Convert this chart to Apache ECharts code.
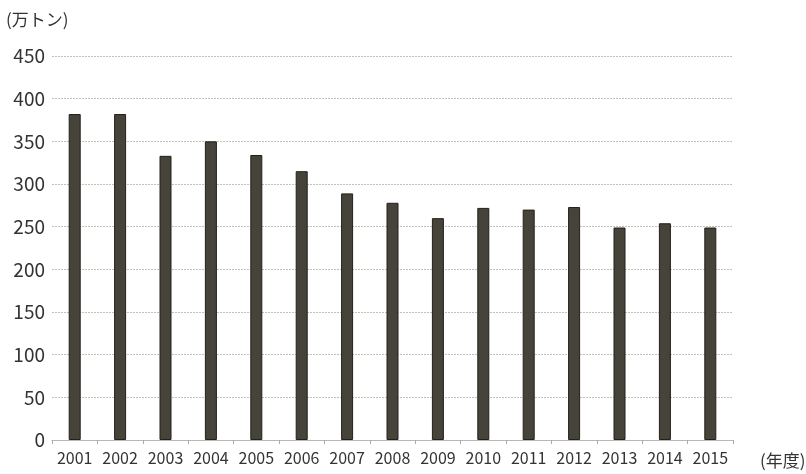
<!DOCTYPE html>
<html><head><meta charset="utf-8">
<script src="https://cdn.jsdelivr.net/npm/echarts@6/dist/echarts.min.js"></script>
<style>html,body{margin:0;padding:0;background:#fff}#c{width:806px;height:474px}</style>
</head><body><div id="c"></div>
<script>
const years = ['2001','2002','2003','2004','2005','2006','2007','2008','2009','2010','2011','2012','2013','2014','2015'];
const values = [382, 382, 333, 350, 334, 315, 289, 278, 260, 272, 270, 273, 249, 254, 249];
const yTicks = [0, 50, 100, 150, 200, 250, 300, 350, 400, 450];

const chart = echarts.init(document.getElementById('c'));
const font = '"Noto Sans CJK JP", "Noto Sans", sans-serif';
chart.setOption({
  backgroundColor: '#ffffff',
  animation: false,
  grid: { left: 52, right: 73, top: 56, bottom: 34 },
  xAxis: {
    type: 'category',
    data: years,
    axisLine: { lineStyle: { color: '#b8b8b8', width: 1 } },
    axisTick: { show: true, length: 4, interval: 0, lineStyle: { color: '#aaaaaa' } },
    axisLabel: { color: '#333', fontSize: 16, fontFamily: font, margin: 10, interval: 0, hideOverlap: false }
  },
  yAxis: {
    type: 'value',
    min: yTicks[0], max: yTicks[yTicks.length - 1], interval: 50,
    axisLine: { show: false },
    axisTick: { show: false },
    axisLabel: { color: '#333', fontSize: 19, fontFamily: font, margin: 7 },
    splitLine: { lineStyle: { color: '#c2c2b4', type: [2, 1], width: 1 } }
  },
  series: [{
    type: 'bar',
    data: values,
    barWidth: 12,
    itemStyle: { color: '#45433a', borderColor: '#222018', borderWidth: 1 }
  }],
  graphic: [
    { type: 'text', left: 6, top: 11, style: { text: '(万トン)', font: '17px ' + font, fill: '#333' } },
    { type: 'text', left: 760, top: 452, style: { text: '(年度)', font: '17px ' + font, fill: '#333' } }
  ]
});
</script></body></html>
